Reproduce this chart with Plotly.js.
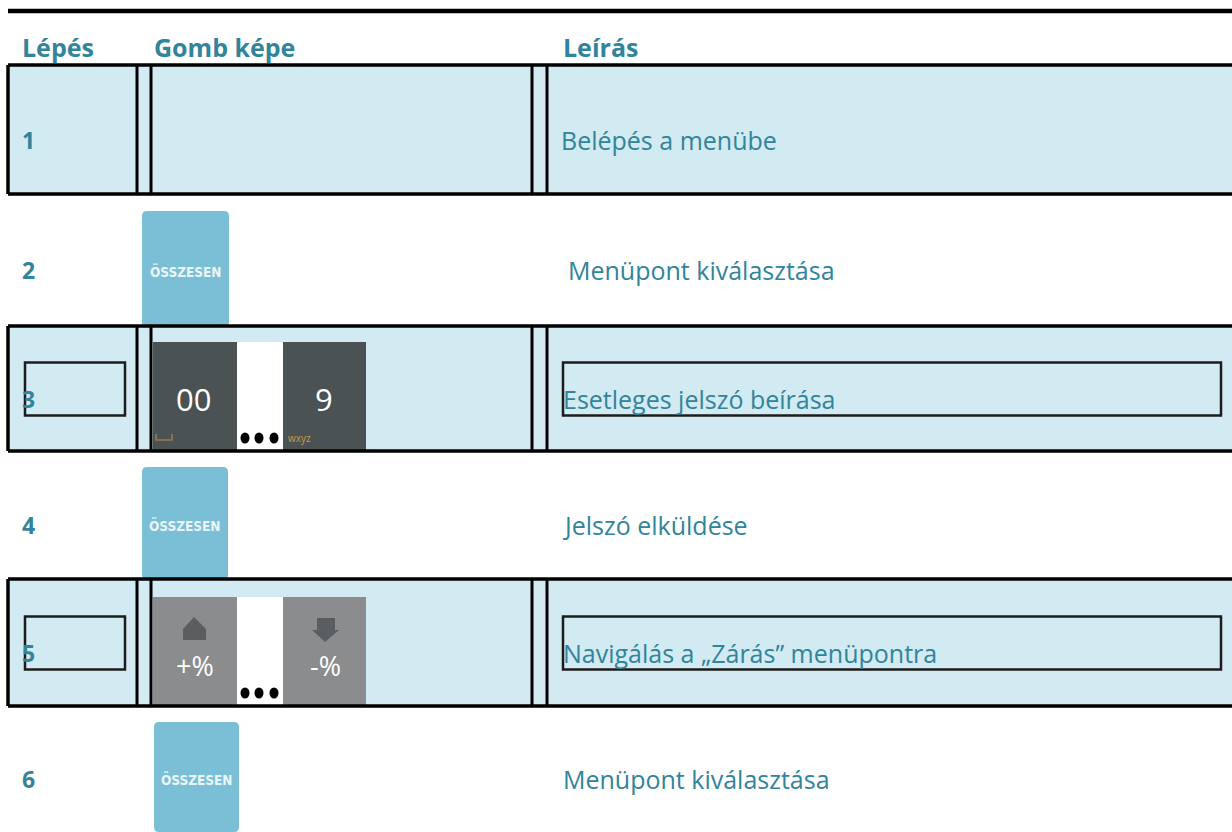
<!DOCTYPE html>
<html>
<head>
<meta charset="utf-8">
<script src="https://cdn.plot.ly/plotly-3.0.1.min.js"></script>
<style>
html,body{margin:0;padding:0;background:#fff;overflow:hidden;}
#chart{width:1232px;height:832px;}
</style>
</head>
<body>
<div id="chart"></div>
<script>
// ---------- DATA ----------
const headers = ['Lépés', 'Gomb képe', 'Leírás'];
const steps = ['1', '2', '3', '4', '5', '6'];
const descriptions = [
  'Belépés a menübe',
  'Menüpont kiválasztása',
  'Esetleges jelszó beírása',
  'Jelszó elküldése',
  'Navigálás a „Zárás” menüpontra',
  'Menüpont kiválasztása'
];
const buttonKinds = ['none', 'total', 'numpad', 'total', 'arrows', 'total'];
const shadedRows = [true, false, true, false, true, false];
const framedRows = [false, false, true, false, true, false];
const totalLabel = 'ÖSSZESEN';
const numpadLabels = ['00', '9'];
const numpadSubLabels = ['wxyz'];
const arrowLabels = ['+%', '-%'];

// ---------- LAYOUT CONSTANTS ----------
const W = 1232, H = 832;
const ROW_EDGES = [65, 194, 326, 451, 579, 706, 832];
const TEXT_DY = 10;
const LEFT = 8;
const COL_LINES = [137, 151, 532, 547];
const HEADER_X = [20, 152, 561];
const HEADER_Y = 47;
const STEP_X = 20;
const DESC_X = [559, 566, 561, 561, 561, 561];
const TOTAL_BOX = {1: [142, 229, 211, 327], 3: [142, 228, 467, 580], 5: [154, 239, 722, 832]};
const PAD_X = [153, 237, 283, 366];
const PAD_TOP = {2: 342, 4: 597};
const FRAME_STEP = [25, 125];
const FRAME_DESC = [563, 1221];

const TEAL = '#31849B';
const LIGHT = '#D2EAF1';
const BTN = '#7BBFD7';
const DARKPAD = '#4B5253';
const GRAYPAD = '#8A8C8E';
const FONT = '"Open Sans", "Liberation Sans", sans-serif';
const FS = 25;

const shapes = [];
const annotations = [];

function line(x0, y0, x1, y1, w, c) {
  shapes.push({type: 'line', xref: 'x', yref: 'y', x0, y0, x1, y1, line: {color: c || '#000', width: w}});
}
function rect(x0, x1, y0, y1, fill, lc, lw) {
  shapes.push({type: 'rect', xref: 'x', yref: 'y', x0, x1, y0, y1, fillcolor: fill,
    line: {color: lc || 'rgba(0,0,0,0)', width: lw || 0}});
}
function path(d, fill) {
  shapes.push({type: 'path', xref: 'x', yref: 'y', path: d, fillcolor: fill, line: {width: 0, color: fill}});
}
function roundRect(x0, x1, y0, y1, r, fill) {
  const d = `M ${x0 + r} ${y0} L ${x1 - r} ${y0} Q ${x1} ${y0} ${x1} ${y0 + r} L ${x1} ${y1 - r} Q ${x1} ${y1} ${x1 - r} ${y1} L ${x0 + r} ${y1} Q ${x0} ${y1} ${x0} ${y1 - r} L ${x0} ${y0 + r} Q ${x0} ${y0} ${x0 + r} ${y0} Z`;
  path(d, fill);
}
function text(x, y, t, size, color, opts, family) {
  annotations.push(Object.assign({
    xref: 'x', yref: 'y', x, y, text: t, showarrow: false,
    xanchor: 'left', yanchor: 'middle',
    font: {family: family || FONT, size, color}
  }, opts || {}));
}

// top rule
line(LEFT, 11, W, 11, 4.5);

// headers
headers.forEach((h, i) => text(HEADER_X[i], HEADER_Y, '<b>' + h + '</b>', FS, TEAL));

steps.forEach((s, i) => {
  const y0 = ROW_EDGES[i], y1 = ROW_EDGES[i + 1];
  const yc = (y0 + y1) / 2 + TEXT_DY;
  if (shadedRows[i]) {
    rect(LEFT, W, y0, y1, LIGHT);
  }
  const kind = buttonKinds[i];
  if (kind === 'total') {
    const b = TOTAL_BOX[i];
    roundRect(b[0], b[1], b[2], b[3], 5, BTN);
    text((b[0] + b[1]) / 2, (b[2] + b[3]) / 2 + 2, '<b>' + totalLabel + '</b>', 13.5, '#EAF5F9',
      {xanchor: 'center'}, '"DejaVu Sans Condensed", "DejaVu Sans", sans-serif');
  } else if (kind === 'numpad' || kind === 'arrows') {
    const top = PAD_TOP[i];
    const bot = y1;
    const col = kind === 'numpad' ? DARKPAD : GRAYPAD;
    rect(PAD_X[0], PAD_X[1], top, bot, col);
    rect(PAD_X[1], PAD_X[2], top, bot, '#FFFFFF');
    rect(PAD_X[2], PAD_X[3], top, bot, col);
    const lc = (PAD_X[0] + PAD_X[1]) / 2 - 2;
    const rc = (PAD_X[2] + PAD_X[3]) / 2 - 1;
    const dotY = bot - 13;
    [245, 259, 274].forEach(dx => {
      shapes.push({type: 'circle', xref: 'x', yref: 'y', x0: dx - 4.5, x1: dx + 4.5, y0: dotY - 5.5, y1: dotY + 5.5,
        fillcolor: '#000', line: {width: 0}});
    });
    if (kind === 'numpad') {
      text(lc, yc, numpadLabels[0], 31, '#FFFFFF', {xanchor: 'center'});
      text(rc, yc, numpadLabels[1], 31, '#FFFFFF', {xanchor: 'center'});
      text(286, dotY, numpadSubLabels[0], 10, '#C99A4A');
      shapes.push({type: 'path', xref: 'x', yref: 'y', path: `M 156 ${dotY - 4} L 156 ${dotY + 2} L 172 ${dotY + 2} L 172 ${dotY - 4}`,
        line: {color: '#9C7B55', width: 1.5}});
    } else {
      path(`M 194 617 L 206 629 L 206 640 L 183 640 L 183 629 Z`, '#5B5E60');
      path(`M 317 618 L 335 618 L 335 630 L 339 630 L 325 642 L 312 630 L 317 630 Z`, '#5B5E60');
      text(195, 665, arrowLabels[0], 27, '#FFFFFF', {xanchor: 'center'});
      text(325, 665, arrowLabels[1], 27, '#FFFFFF', {xanchor: 'center'});
    }
  }
  if (shadedRows[i]) {
    line(LEFT, y0, W, y0, 3.5);
    line(LEFT, y1, W, y1, 3.5);
    line(LEFT, y0, LEFT, y1, 3.5);
    COL_LINES.forEach(cx => line(cx, y0, cx, y1, 3));
  }
  if (framedRows[i]) {
    rect(FRAME_STEP[0], FRAME_STEP[1], yc - 36, yc + 17, 'rgba(0,0,0,0)', '#1C1C1C', 2.5);
    rect(FRAME_DESC[0], FRAME_DESC[1], yc - 36, yc + 17, 'rgba(0,0,0,0)', '#1C1C1C', 2.5);
  }
  text(STEP_X, yc, '<b>' + s + '</b>', FS - 2, TEAL);
  text(DESC_X[i], yc, descriptions[i], FS, TEAL);
});

const layout = {
  width: W, height: H,
  margin: {l: 0, r: 0, t: 0, b: 0, pad: 0},
  paper_bgcolor: '#FFFFFF', plot_bgcolor: '#FFFFFF',
  showlegend: false,
  xaxis: {range: [0, W], visible: false, fixedrange: true},
  yaxis: {range: [H, 0], visible: false, fixedrange: true},
  shapes, annotations
};
Plotly.newPlot('chart', [{x: [0], y: [0], mode: 'markers', marker: {opacity: 0}, hoverinfo: 'skip'}], layout,
  {staticPlot: true, displayModeBar: false});
</script>
</body>
</html>
